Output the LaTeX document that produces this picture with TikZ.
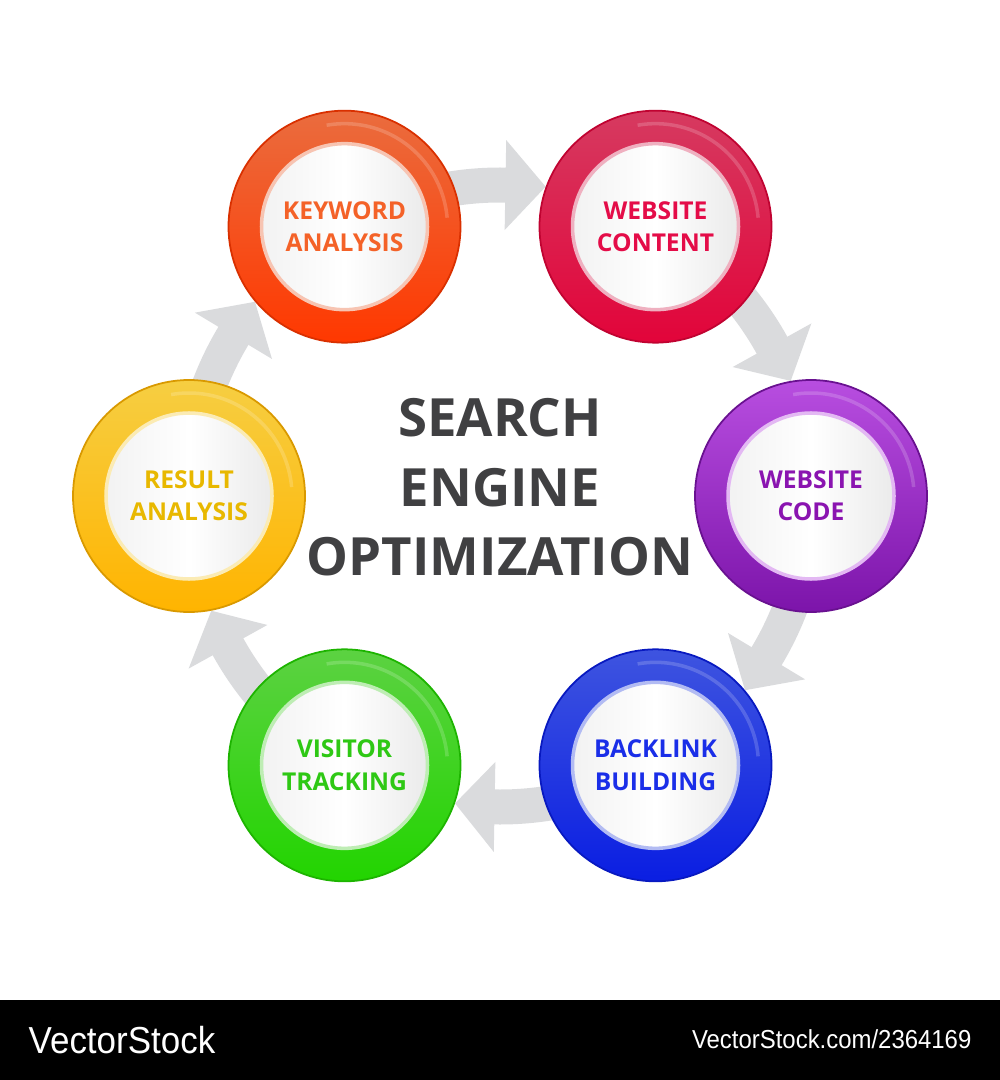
\documentclass[tikz,border=0pt]{standalone}
\usepackage{fontspec}
\setmainfont{Open Sans}
\newfontfamily\barfont{Liberation Sans}
\usetikzlibrary{calc}
\pgfdeclarelayer{edgelayer}
\pgfsetlayers{edgelayer,main}
\definecolor{flowgray}{RGB}{218,219,221}
\definecolor{titlegray}{RGB}{64,64,66}
\definecolor{kwTop}{RGB}{234,108,62}   \definecolor{kwBot}{RGB}{255,56,0}    \definecolor{kwText}{RGB}{244,98,40}
\definecolor{wcTop}{RGB}{214,58,96}    \definecolor{wcBot}{RGB}{226,4,58}    \definecolor{wcText}{RGB}{228,12,72}
\definecolor{codeTop}{RGB}{184,78,224} \definecolor{codeBot}{RGB}{124,20,170} \definecolor{codeText}{RGB}{138,20,176}
\definecolor{blTop}{RGB}{62,84,224}    \definecolor{blBot}{RGB}{10,30,226}   \definecolor{blText}{RGB}{26,46,232}
\definecolor{vtTop}{RGB}{92,210,66}    \definecolor{vtBot}{RGB}{34,212,0}    \definecolor{vtText}{RGB}{46,200,20}
\definecolor{raTop}{RGB}{246,206,66}   \definecolor{raBot}{RGB}{255,180,0}   \definecolor{raText}{RGB}{232,184,0}
\tikzstyle{flow}=[draw=flowgray,line width=0.35cm]

\begin{document}
\begin{tikzpicture}
  [ring/.style={circle,inner sep=0pt,minimum size=2.32cm,align=center,
     top color=#1Top,bottom color=#1Bot,draw=#1Bot!85!black,line width=0.5pt,
     text=#1Text,font=\bfseries\fontsize{7}{9.2}\selectfont,
     path picture={
       \draw[white,opacity=.18,line width=1pt]
         ($(path picture bounding box.center)+(5:1.03)$) arc[start angle=5,end angle=100,radius=1.03];
       \shade[left color=gray!10,right color=gray!16,middle color=white]
         (path picture bounding box.center) circle[radius=0.83cm];
       \draw[#1Top!40!white,line width=1pt]
         (path picture bounding box.center) circle[radius=0.83cm];
     }},
   title/.style={align=center,text=titlegray,font=\bfseries\fontsize{15}{19.8}\selectfont}
  ]
  \useasboundingbox (0,0) rectangle (10,-10.8);
  \coordinate (O) at (5,-4.96);

  % steps
  \node[ring=kw]   (kw)   at ($(O)+(120:3.11)$)  {KEYWORD\\ANALYSIS};
  \node[ring=wc]   (wc)   at ($(O)+(60:3.11)$)   {WEBSITE\\CONTENT};
  \node[ring=code] (code) at ($(O)+(0:3.11)$)    {WEBSITE\\CODE};
  \node[ring=bl]   (bl)   at ($(O)+(-60:3.11)$)  {BACKLINK\\BUILDING};
  \node[ring=vt]   (vt)   at ($(O)+(-120:3.11)$) {VISITOR\\TRACKING};
  \node[ring=ra]   (ra)   at ($(O)+(180:3.11)$)  {RESULT\\ANALYSIS};

  \node[title] (seo) at (5,-4.875) {SEARCH\\ENGINE\\OPTIMIZATION};

  % arrows round the cycle
  \begin{pgfonlayer}{edgelayer}
    \foreach \from/\to/\a [evaluate=\a as \tipang using \a+40.75] in
        {kw/wc/120,wc/code/60,code/bl/0,bl/vt/-60,vt/ra/-120,ra/kw/180}{
      \draw[flow] (\from.center) arc[start angle=\a,end angle=\a-32,radius=3.11];
      \fill[flowgray] ($(O)+(\a-31:2.66)$) -- ($(O)+(\a-31:3.56)$) -- (\to.\tipang) -- cycle;
    }
  \end{pgfonlayer}

  % footer
  \fill[black] (0,-10) rectangle (10,-10.8);
  \node[anchor=west,inner sep=0pt,text=white,xscale=0.93,font=\barfont\fontsize{10.7}{12}\selectfont]
    (brand) at (0.28,-10.4) {VectorStock};
  \node[anchor=east,inner sep=0pt,text=white,xscale=0.92,font=\barfont\fontsize{7.4}{9}\selectfont]
    (ref) at (9.72,-10.39) {VectorStock.com/2364169};
\end{tikzpicture}
\end{document}
